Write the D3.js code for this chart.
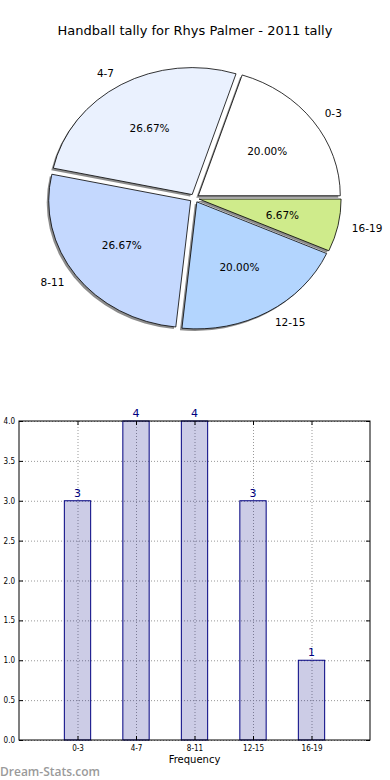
<!DOCTYPE html>
<html>
<head>
<meta charset="utf-8">
<script src="https://cdn.jsdelivr.net/npm/d3@7"></script>
<style>
  body { margin: 0; background: #fff; }
  svg { display: block; font-family: 'DejaVu Sans', sans-serif; }
</style>
</head>
<body>
<div id="chart"></div>
<script>
var categories = ['0-3', '4-7', '8-11', '12-15', '16-19'];
var counts = [3, 4, 4, 3, 1];
var sliceColors = ['#ffffff', '#eaf1fe', '#c4d8fe', '#b3d5fe', '#cfeb8b'];
var yTicks = [0, 0.5, 1, 1.5, 2, 2.5, 3, 3.5, 4];

var width = 390, height = 780;
var svg = d3.select('#chart').append('svg')
	.attr('width', width)
	.attr('height', height);

svg.append('text')
	.attr('x', 195)
	.attr('y', 35)
	.attr('text-anchor', 'middle')
	.attr('font-size', 13)
	.attr('fill', '#000')
	.text('Handball tally for Rhys Palmer - 2011 tally');

// ---- pie (matplotlib style: ccw from 3 o'clock, stretched to an ellipse)
var cx = 194.5, cy = 198.2, rx = 142, ry = 127, explode = 0.033;
var total = d3.sum(counts);

var pie = d3.pie().sort(null)
	.startAngle(Math.PI / 2)
	.endAngle(Math.PI / 2 - 2 * Math.PI);
var arcs = pie(counts);
var arc = d3.arc().innerRadius(0).outerRadius(1);

var pieG = svg.append('g');

// mid angle in math convention (ccw from east)
function midTheta(d) {
	return Math.PI / 2 - (d.startAngle + d.endAngle) / 2;
}

function wedgeOrigin(d) {
	var t = midTheta(d);
	return [cx + explode * rx * Math.cos(t), cy - explode * ry * Math.sin(t)];
}

// shadows first
arcs.forEach(function (d) {
	var o = wedgeOrigin(d);
	pieG.append('path')
		.attr('d', arc(d))
		.attr('transform', 'translate(' + (o[0] - 2) + ',' + (o[1] + 2) + ') scale(' + rx + ',' + ry + ')')
		.attr('fill', '#000')
		.attr('fill-opacity', 0.45);
});

arcs.forEach(function (d, i) {
	var o = wedgeOrigin(d);
	pieG.append('path')
		.attr('d', arc(d))
		.attr('transform', 'translate(' + o[0] + ',' + o[1] + ') scale(' + rx + ',' + ry + ')')
		.attr('fill', sliceColors[i])
		.attr('stroke', '#000')
		.attr('stroke-width', 0.8)
		.attr('vector-effect', 'non-scaling-stroke');
});

arcs.forEach(function (d, i) {
	var o = wedgeOrigin(d);
	var t = midTheta(d);
	var lx = o[0] + 1.1 * rx * Math.cos(t);
	var ly = o[1] - 1.1 * ry * Math.sin(t);
	pieG.append('text')
		.attr('x', lx)
		.attr('y', ly)
		.attr('dy', '0.35em')
		.attr('text-anchor', Math.cos(t) >= 0 ? 'start' : 'end')
		.attr('font-size', 10.5)
		.text(categories[i]);

	pieG.append('text')
		.attr('x', o[0] + 0.6 * rx * Math.cos(t))
		.attr('y', o[1] - 0.6 * ry * Math.sin(t))
		.attr('dy', '0.35em')
		.attr('text-anchor', 'middle')
		.attr('font-size', 10.5)
		.text((counts[i] / total * 100).toFixed(2) + '%');
});

// ---- bar chart
var margin = { top: 421, left: 19, right: 20, bottom: 40 };
var g_width = 370 - margin.left;
var g_height = 740 - margin.top;

var g = svg.append('g')
	.attr('transform', 'translate(' + margin.left + ',' + margin.top + ')');

var xScale = d3.scaleLinear().domain([-1, 5]).range([0, g_width]);
var yScale = d3.scaleLinear().domain([0, 4]).range([g_height, 0]);
var barW = xScale(0.45) - xScale(0);

// grid
g.selectAll('.hgrid').data(yTicks).enter().append('line')
	.attr('x1', 0).attr('x2', g_width)
	.attr('y1', function (d) { return yScale(d) + 0.5; })
	.attr('y2', function (d) { return yScale(d) + 0.5; })
	.attr('stroke', '#999')
	.attr('stroke-dasharray', '1,2');
g.selectAll('.vgrid').data(categories).enter().append('line')
	.attr('y1', 0).attr('y2', g_height)
	.attr('x1', function (d, i) { return xScale(i) + 0.5; })
	.attr('x2', function (d, i) { return xScale(i) + 0.5; })
	.attr('stroke', '#999')
	.attr('stroke-dasharray', '1,2');

// bars
g.selectAll('.bar').data(counts).enter().append('rect')
	.attr('class', 'bar')
	.attr('x', function (d, i) { return xScale(i) - barW / 2; })
	.attr('y', function (d) { return yScale(d); })
	.attr('width', barW)
	.attr('height', function (d) { return g_height - yScale(d); })
	.attr('fill', '#000080')
	.attr('fill-opacity', 0.2)
	.attr('stroke', '#000080')
	.attr('stroke-width', 1);

g.selectAll('.val').data(counts).enter().append('text')
	.attr('x', function (d, i) { return xScale(i); })
	.attr('y', function (d) { return yScale(d) - 4; })
	.attr('text-anchor', 'middle')
	.attr('font-size', 11)
	.attr('fill', '#000080')
	.text(function (d) { return d; });

// axes
var yAxis = d3.axisLeft(yScale).tickValues(yTicks).tickFormat(d3.format('.1f')).tickSize(-4).tickPadding(4);
var yAxisR = d3.axisRight(yScale).tickValues(yTicks).tickFormat('').tickSize(-4);
var xAxis = d3.axisBottom(xScale).tickValues([0, 1, 2, 3, 4])
	.tickFormat(function (d) { return categories[d]; }).tickSize(-4).tickPadding(5);
var xAxisT = d3.axisTop(xScale).tickValues([0, 1, 2, 3, 4]).tickFormat('').tickSize(-4);

g.append('g').attr('class', 'y axis').call(yAxis);
g.append('g').attr('class', 'y axis').attr('transform', 'translate(' + g_width + ',0)').call(yAxisR);
g.append('g').attr('class', 'x axis').attr('transform', 'translate(0,' + g_height + ')').call(xAxis);
g.append('g').attr('class', 'x axis').call(xAxisT);

g.selectAll('.axis .domain').remove();
g.selectAll('.axis text').attr('font-size', 8).attr('font-family', 'DejaVu Sans Condensed, DejaVu Sans, sans-serif').attr('fill', '#000');
g.selectAll('.axis line').attr('stroke', '#000');

g.append('rect')
	.attr('x', 0).attr('y', 0)
	.attr('width', g_width).attr('height', g_height)
	.attr('fill', 'none')
	.attr('stroke', '#000')
	.attr('stroke-width', 1);

g.append('text')
	.attr('x', g_width / 2)
	.attr('y', g_height + 23)
	.attr('text-anchor', 'middle')
	.attr('font-size', 10)
	.text('Frequency');

svg.append('text')
	.attr('x', 0)
	.attr('y', 776)
	.attr('font-family', 'Open Sans, sans-serif')
	.attr('font-weight', 600)
	.attr('font-size', 12)
	.attr('fill', '#9a9a9a')
	.text('Dream-Stats.com');
</script>
</body>
</html>
